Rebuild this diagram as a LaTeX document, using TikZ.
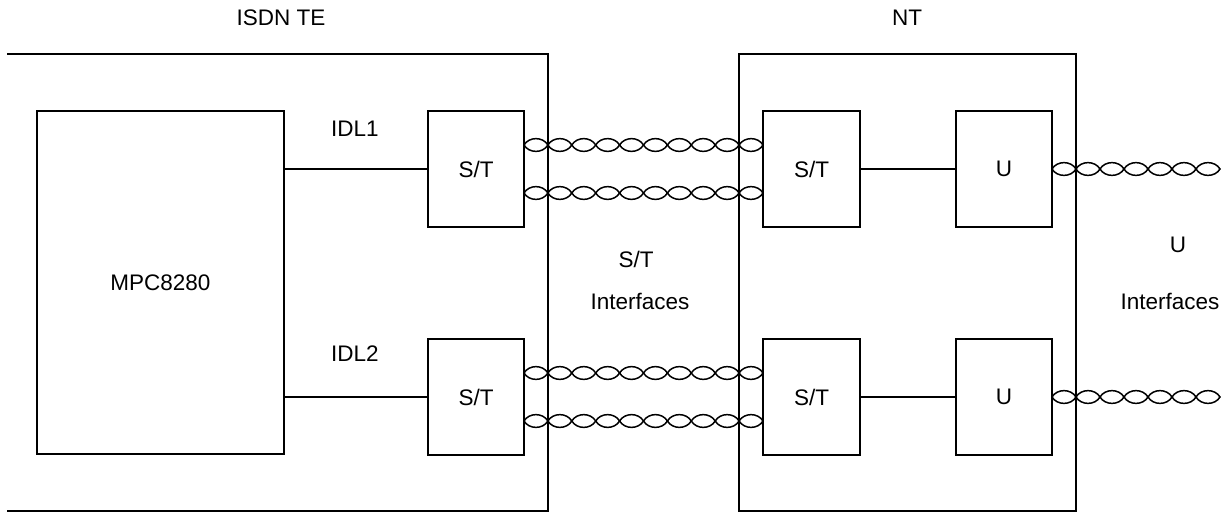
\documentclass[tikz,border=0pt]{standalone}
\usepackage{fontspec}
\setmainfont{Liberation Sans}
\begin{document}
\begin{tikzpicture}[x=1pt,y=-1pt,
  box/.style={draw,line width=1.7pt,inner sep=0pt},
  lbl/.style={font=\fontsize{22.5}{26}\selectfont,inner sep=0pt},
  wire/.style={line width=1.7pt},
  twist/.style={line width=1.5pt}]
\useasboundingbox (0,0) rectangle (1224,512);
% outer frames
\draw[wire] (7,54) -- (548,54) -- (548,511) -- (7,511);
\node[box,minimum width=337pt,minimum height=457pt] (nt) at (907.5,282.5) {};
% labels
\node[lbl] (lte) at (281,18) {ISDN TE};
\node[lbl] (lnt) at (907,18) {NT};
% boxes
\node[box,minimum width=247pt,minimum height=343pt,lbl] (mpc) at (160.5,282.5) {MPC8280};
\node[box,minimum width=96pt,minimum height=116pt,lbl] (st1) at (476,169) {S/T};
\node[box,minimum width=96pt,minimum height=116pt,lbl] (st2) at (476,397) {S/T};
\node[box,minimum width=97pt,minimum height=116pt,lbl] (nst1) at (811.5,169) {S/T};
\node[box,minimum width=97pt,minimum height=116pt,lbl] (nst2) at (811.5,397) {S/T};
\node[box,minimum width=96pt,minimum height=116pt,lbl] (u1) at (1004,169) {U};
\node[box,minimum width=96pt,minimum height=116pt,lbl] (u2) at (1004,397) {U};
% connectors
\draw[wire] (mpc.east |- st1) -- (st1.west);
\draw[wire] (mpc.east |- st2) -- (st2.west);
\draw[wire] (nst1.east) -- (u1.west);
\draw[wire] (nst2.east) -- (u2.west);
\node[lbl] (idl1) at (355,129) {IDL1};
\node[lbl] (idl2) at (355,354) {IDL2};
\node[lbl] (sti) at (636,259) {S/T};
\node[lbl] (stii) at (640,301) {Interfaces};
\node[lbl] (ui) at (1178,245) {U};
\node[lbl] (uii) at (1170,301) {Interfaces};
% twisted pairs S/T
\foreach \yy in {145,193,373,421}{
  \foreach \k in {0,...,9}{
    \pgfmathsetmacro{\xa}{524+23.9*\k}
    \pgfmathsetmacro{\xb}{\xa+23.9}
    \draw[twist] (\xa,\yy) .. controls (\xa+5,\yy-8.5) and (\xb-5,\yy-8.5) .. (\xb,\yy)
                 .. controls (\xb-5,\yy+8.5) and (\xa+5,\yy+8.5) .. (\xa,\yy);
  }
}
% twisted pairs U
\foreach \yy in {169,397}{
  \foreach \k in {0,...,6}{
    \pgfmathsetmacro{\xa}{1052+24*\k}
    \pgfmathsetmacro{\xb}{\xa+24}
    \draw[twist] (\xa,\yy) .. controls (\xa+5,\yy-8.5) and (\xb-5,\yy-8.5) .. (\xb,\yy)
                 .. controls (\xb-5,\yy+8.5) and (\xa+5,\yy+8.5) .. (\xa,\yy);
  }
}
\end{tikzpicture}
\end{document}
